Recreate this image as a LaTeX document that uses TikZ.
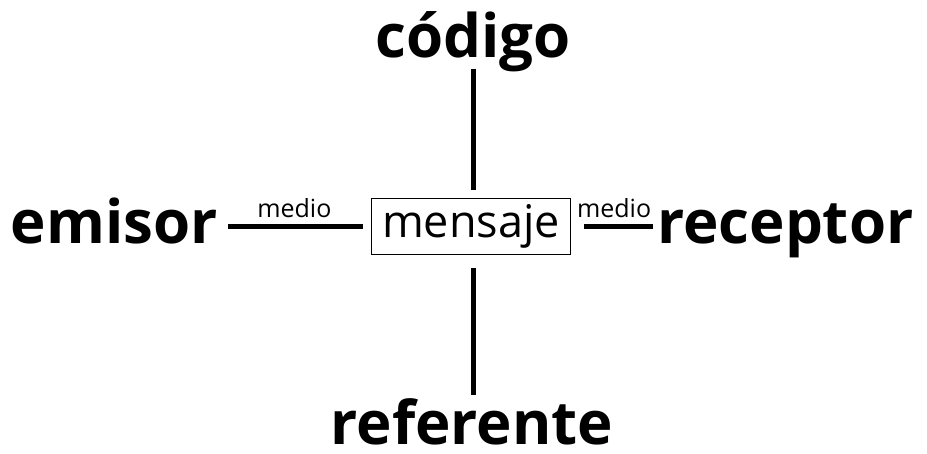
\documentclass[tikz,border=0pt]{standalone}
\usepackage{fontspec}
\setmainfont{Open Sans}
\usetikzlibrary{positioning}

\tikzset{
	big/.style={font=\fontsize{60}{60}\selectfont\bfseries, inner sep=0pt},
	msg/.style={draw, line width=1.6pt, font=\fontsize{45}{45}\selectfont, minimum width=199, minimum height=56, inner sep=0pt},
	small/.style={font=\fontsize{25}{25}\selectfont, inner sep=0pt},
	conn/.style={line width=5pt},
}

\begin{document}
\begin{tikzpicture}[x=1pt, y=-1pt]
	\useasboundingbox (0,0) rectangle (927,454);
	\node[big, anchor=base] (codigo) at (473,58) {código};
	\node[big, anchor=base east] (emisor) at (218,244) {emisor};
	\node[msg] (mensaje) at (471,226.5) {mensaje};
	\node[big, anchor=base west] (receptor) at (657,244) {receptor};
	\node[big, anchor=base] (referente) at (472,445) {referente};
	
	\draw[conn, shorten <=-4, shorten >=8] (codigo.south) -- (codigo.south |- mensaje.north);
	\draw[conn, shorten <=13, shorten >=4] (codigo.south |- mensaje.south) -- (codigo.south |- referente.north);
	\draw[conn, shorten <=10, shorten >=8] (emisor.east |- mensaje.west) -- (mensaje.west) node[small, midway, above=6.5pt] (medio1) {medio};
	\draw[conn, shorten <=13, shorten >=4] (mensaje.east) -- (receptor.west |- mensaje.east) node[small, midway, above=6.5pt] (medio2) {medio};
\end{tikzpicture}
\end{document}
